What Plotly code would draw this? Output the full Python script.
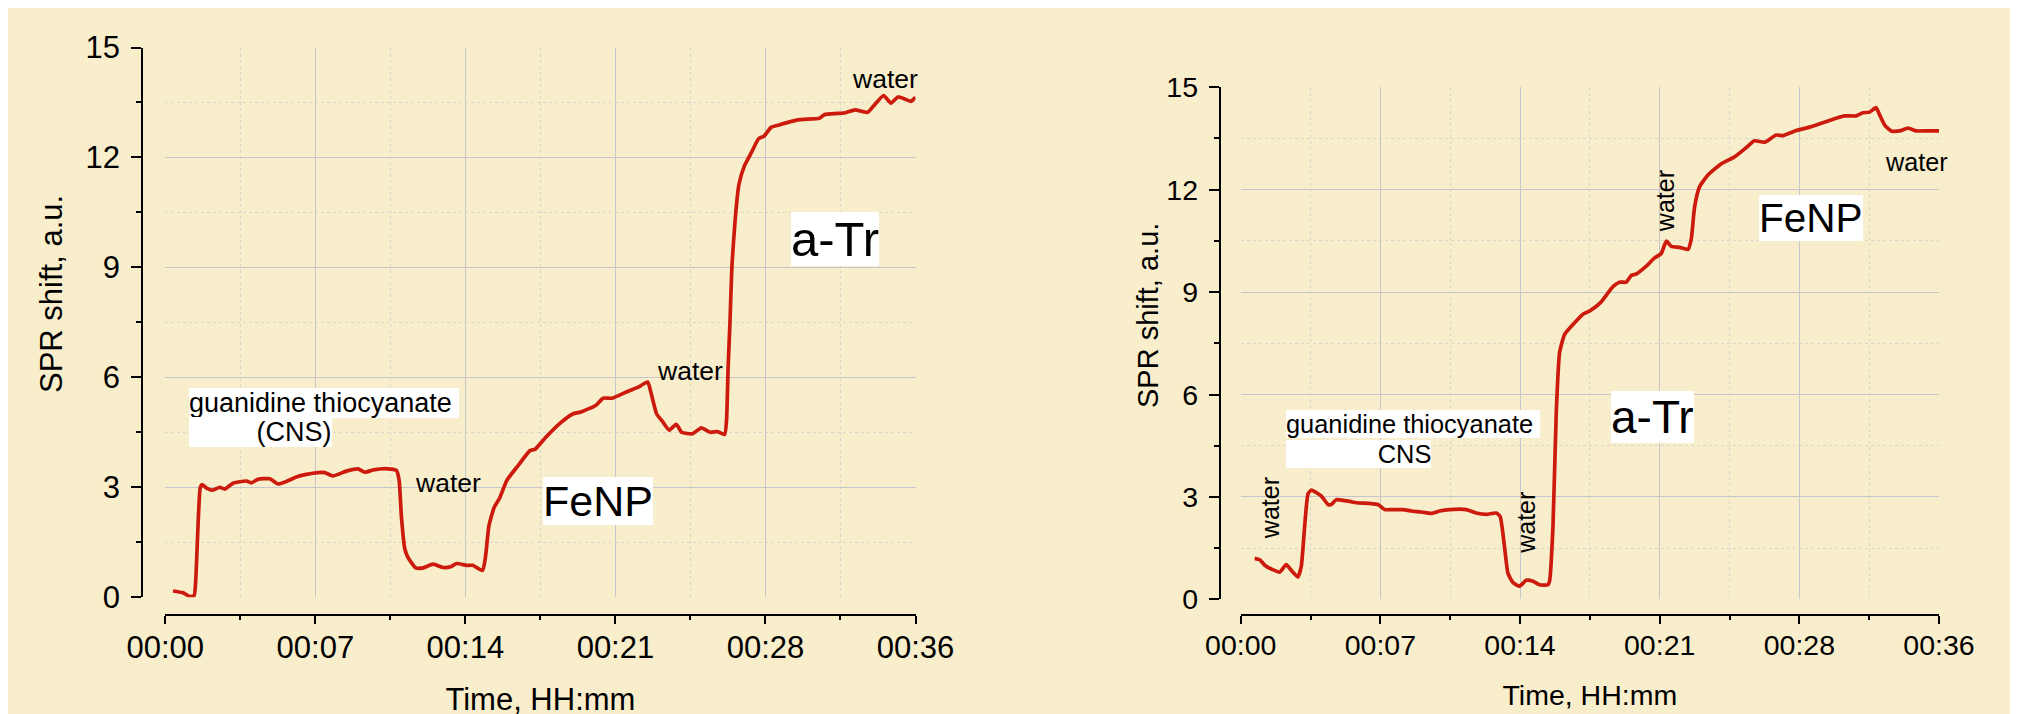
import plotly.graph_objects as go

# ---------------- data ----------------
tick_vals = [0, 7.2, 14.4, 21.6, 28.8, 36]
tick_text = ["00:00", "00:07", "00:14", "00:21", "00:28", "00:36"]

left_t = [0.37, 0.85, 1.17, 1.38, 1.46, 1.57, 1.68, 1.77, 2.0, 2.28, 2.61, 2.85, 3.25, 3.89, 4.13,
          4.45, 5.01, 5.41, 5.81, 6.29, 6.77, 7.33, 7.65, 8.05, 8.69, 9.25, 9.57, 9.97, 10.53, 11.09,
          11.22, 11.33, 11.49, 11.65, 12.02, 12.38, 12.85, 13.33, 13.73, 13.98, 14.45, 14.75, 15.22,
          15.36, 15.53, 15.78, 16.04, 16.39, 16.9, 17.5, 17.75, 18.27, 18.95, 19.55, 19.98, 20.67,
          21.01, 21.44, 22.21, 22.72, 23.15, 23.32, 23.58, 23.84, 24.18, 24.52, 24.78, 25.3, 25.72,
          26.15, 26.5, 26.84, 26.93, 27.01, 27.1, 27.19, 27.36, 27.53, 27.79, 28.13, 28.47, 28.73,
          29.07, 29.41, 29.84, 30.44, 31.39, 31.64, 32.24, 32.64, 33.1, 33.7, 34.04, 34.47, 34.82,
          35.16, 35.59, 35.78, 36.0]
left_y = [0.17, 0.12, 0.02, 0.04, 0.46, 1.95, 3.0, 3.07, 2.97, 2.92, 3.0, 2.95, 3.11, 3.17, 3.12,
          3.22, 3.23, 3.09, 3.16, 3.28, 3.35, 3.40, 3.40, 3.31, 3.44, 3.50, 3.41, 3.47, 3.51, 3.46,
          3.19, 2.2, 1.33, 1.08, 0.80, 0.80, 0.90, 0.81, 0.84, 0.92, 0.87, 0.87, 0.73,
          1.08, 1.95, 2.45, 2.70, 3.19, 3.57, 4.0, 4.04, 4.37, 4.75, 5.0, 5.06, 5.24,
          5.43, 5.43, 5.62, 5.74, 5.87, 5.55, 5.0, 4.81, 4.56, 4.72, 4.5, 4.46, 4.62,
          4.5, 4.52, 4.44, 4.81, 6.3, 7.54, 9.03, 10.4, 11.27, 11.77, 12.14, 12.51, 12.58,
          12.82, 12.88, 12.95, 13.03, 13.07, 13.17, 13.2, 13.22, 13.3, 13.23, 13.44, 13.69, 13.48,
          13.65, 13.57, 13.53, 13.64]

right_t = [0.72, 0.98, 1.24, 1.58, 2.01, 2.35, 2.61, 2.95, 3.12, 3.3, 3.47, 3.64, 4.15, 4.5, 4.67,
           4.93, 5.62, 5.96, 6.65, 7.08, 7.42, 7.85, 8.37, 8.79, 9.31, 9.83, 10.26, 10.77, 11.63,
           12.14, 12.66, 13.18, 13.38, 13.61, 13.78, 14.04, 14.38, 14.72, 15.07, 15.41, 15.84,
           15.93, 16.1, 16.27, 16.44, 16.7, 17.13, 17.66, 18.0, 18.55, 19.19, 19.53, 19.87, 20.14,
           20.39, 20.91, 21.34, 21.68, 21.94, 22.2, 22.63, 23.06, 23.23, 23.4, 23.66, 24.09, 24.78,
           25.46, 26.06, 26.49, 27.01, 27.61, 27.95, 28.64, 29.33, 30.02, 30.7, 31.13, 31.73, 32.08,
           32.42, 32.76, 32.94, 33.2, 33.54, 33.97, 34.4, 34.83, 35.35, 36.0]
right_y = [1.2, 1.16, 1.0, 0.89, 0.8, 1.02, 0.85, 0.66, 0.96, 2.16, 3.09, 3.2, 3.03, 2.78, 2.78,
           2.92, 2.87, 2.83, 2.81, 2.78, 2.63, 2.63, 2.63, 2.59, 2.56, 2.52, 2.59, 2.63, 2.63,
           2.53, 2.49, 2.53, 2.42, 1.49, 0.76, 0.49, 0.39, 0.56, 0.53, 0.43, 0.43,
           0.56, 2.16, 5.49, 7.23, 7.76, 8.05, 8.36, 8.45, 8.69, 9.16, 9.29, 9.29, 9.49,
           9.53, 9.76, 10.0, 10.13, 10.49, 10.34, 10.31, 10.25, 10.56, 11.49, 12.09, 12.43, 12.76,
           12.96, 13.23, 13.43, 13.39, 13.6, 13.58, 13.73, 13.83, 13.96, 14.09, 14.16, 14.16, 14.25,
           14.27, 14.4, 14.19, 13.89, 13.72, 13.72, 13.8, 13.72, 13.72, 13.72]

# ---------------- styling ----------------
W, H = 2018, 714
BG = "#f9eecc"
RED = "#cc1a0c"
FONT = "Liberation Sans, Arial, sans-serif"
GRID = "#c6c7cc"
MINORGRID = "#d8d6cf"
NB = "\u00a0"
DX, DY = -5, -6          # global pixel nudge

fig = go.Figure()
for t, v, xa, ya in [(left_t, left_y, "x", "y"), (right_t, right_y, "x2", "y2")]:
    fig.add_trace(go.Scatter(x=t, y=v, mode="lines",
                             line=dict(color=RED, width=3.7, shape="spline", smoothing=0.5),
                             xaxis=xa, yaxis=ya, showlegend=False, hoverinfo="skip"))


def xax(x0, x1, size, standoff):
    return dict(domain=[(x0 + DX) / W, (x1 + DX) / W], range=[0, 36], anchor="free",
                position=1 - (613.4 + DY) / H,
                tickvals=tick_vals, ticktext=tick_text, ticks="outside", ticklen=8, tickwidth=2,
                tickcolor="black", showline=True, linecolor="black", linewidth=2,
                ticklabelstandoff=-4,
                showgrid=True, gridcolor=GRID, gridwidth=1.2, zeroline=False,
                minor=dict(tick0=0, dtick=3.6, ticks="outside", ticklen=4, tickwidth=2,
                           tickcolor="black", showgrid=True, gridcolor=MINORGRID, griddash="dot",
                           gridwidth=1),
                tickfont=dict(family=FONT, size=size, color="black"),
                title=dict(text="Time, HH:mm", font=dict(family=FONT, size=size, color="black"),
                           standoff=standoff),
                automargin=False, fixedrange=True)


def yax(y_top, y_bot, pos_px, size):
    return dict(domain=[1 - (y_bot + DY) / H, 1 - (y_top + DY) / H], range=[0, 15], anchor="free",
                position=(pos_px + DX) / W,
                tick0=0, dtick=3, ticks="outside", ticklen=10, tickwidth=2, tickcolor="black",
                showline=True, linecolor="black", linewidth=2, ticklabelstandoff=5,
                showgrid=True, gridcolor=GRID, gridwidth=1.2, zeroline=False,
                minor=dict(tick0=0, dtick=1.5, ticks="outside", ticklen=5, tickwidth=2,
                           tickcolor="black", showgrid=True, gridcolor=MINORGRID, griddash="dot",
                           gridwidth=1),
                tickfont=dict(family=FONT, size=size, color="black"),
                automargin=False, fixedrange=True)


fig.update_layout(
    width=W, height=H, margin=dict(l=0, r=0, t=0, b=0),
    paper_bgcolor=BG, plot_bgcolor="rgba(0,0,0,0)",
    xaxis=xax(162.3, 912.5, 31, 24),
    yaxis=yax(45.5, 595.2, 139.3, 31),
    xaxis2=xax(1237.7, 1936, 28.5, 24),
    yaxis2=yax(85.2, 597.4, 1216.7, 28.5),
    font=dict(family=FONT, color="black"),
)

# y-axis titles (placed like the original, above the axis centre)
for px, py, size in [(43, 286, 31), (1140, 308, 29)]:
    fig.add_annotation(text="SPR shift, a.u.", x=px / W, y=1 - py / H, xref="paper", yref="paper",
                       showarrow=False, textangle=-90, xanchor="center", yanchor="middle",
                       font=dict(family=FONT, size=size, color="black"))


def note(text, x, y, size, xa="x", ya="y", angle=0, bg=None, xanchor="center"):
    d = dict(text=text, x=x, y=y, xref=xa, yref=ya, showarrow=False, textangle=angle,
             font=dict(family=FONT, size=size, color="black"), xanchor=xanchor, yanchor="middle",
             borderpad=0, borderwidth=0)
    if bg:
        d["bgcolor"] = bg
    fig.add_annotation(**d)


# left chart labels
note("water", -0.11, 1.67, 26, angle=-90)
note("water", 13.57, 3.12, 26.5)
note("water", 25.16, 6.17, 26.5)
note("water", 34.54, 14.14, 26.5)
note("guanidine thiocyanate" + NB, 1.12, 5.31, 27, bg="white", xanchor="left")
note(NB * 9 + "(CNS)", 1.12, 4.52, 27, bg="white", xanchor="left")
note("FeNP", 20.74, 2.63, 43, bg="white")
note("a-Tr", 32.13, 9.78, 49, bg="white")

# right chart labels
note("water", 1.49, 2.66, 25, xa="x2", ya="y2", angle=-90)
note("water", 14.67, 2.25, 25, xa="x2", ya="y2", angle=-90)
note("water", 21.87, 11.66, 25, xa="x2", ya="y2", angle=-90)
note("water", 34.86, 12.81, 25.2, xa="x2", ya="y2")
note("guanidine thiocyanate" + NB, 2.32, 5.14, 25.4, xa="x2", ya="y2", bg="white", xanchor="left")
note(NB * 13 + "CNS", 2.32, 4.27, 25.4, xa="x2", ya="y2", bg="white", xanchor="left")
note("FeNP", 29.41, 11.18, 40.5, xa="x2", ya="y2", bg="white")
note("a-Tr", 21.22, 5.33, 46, xa="x2", ya="y2", bg="white")

fig.write_html("out.html", config=dict(displayModeBar=False))
